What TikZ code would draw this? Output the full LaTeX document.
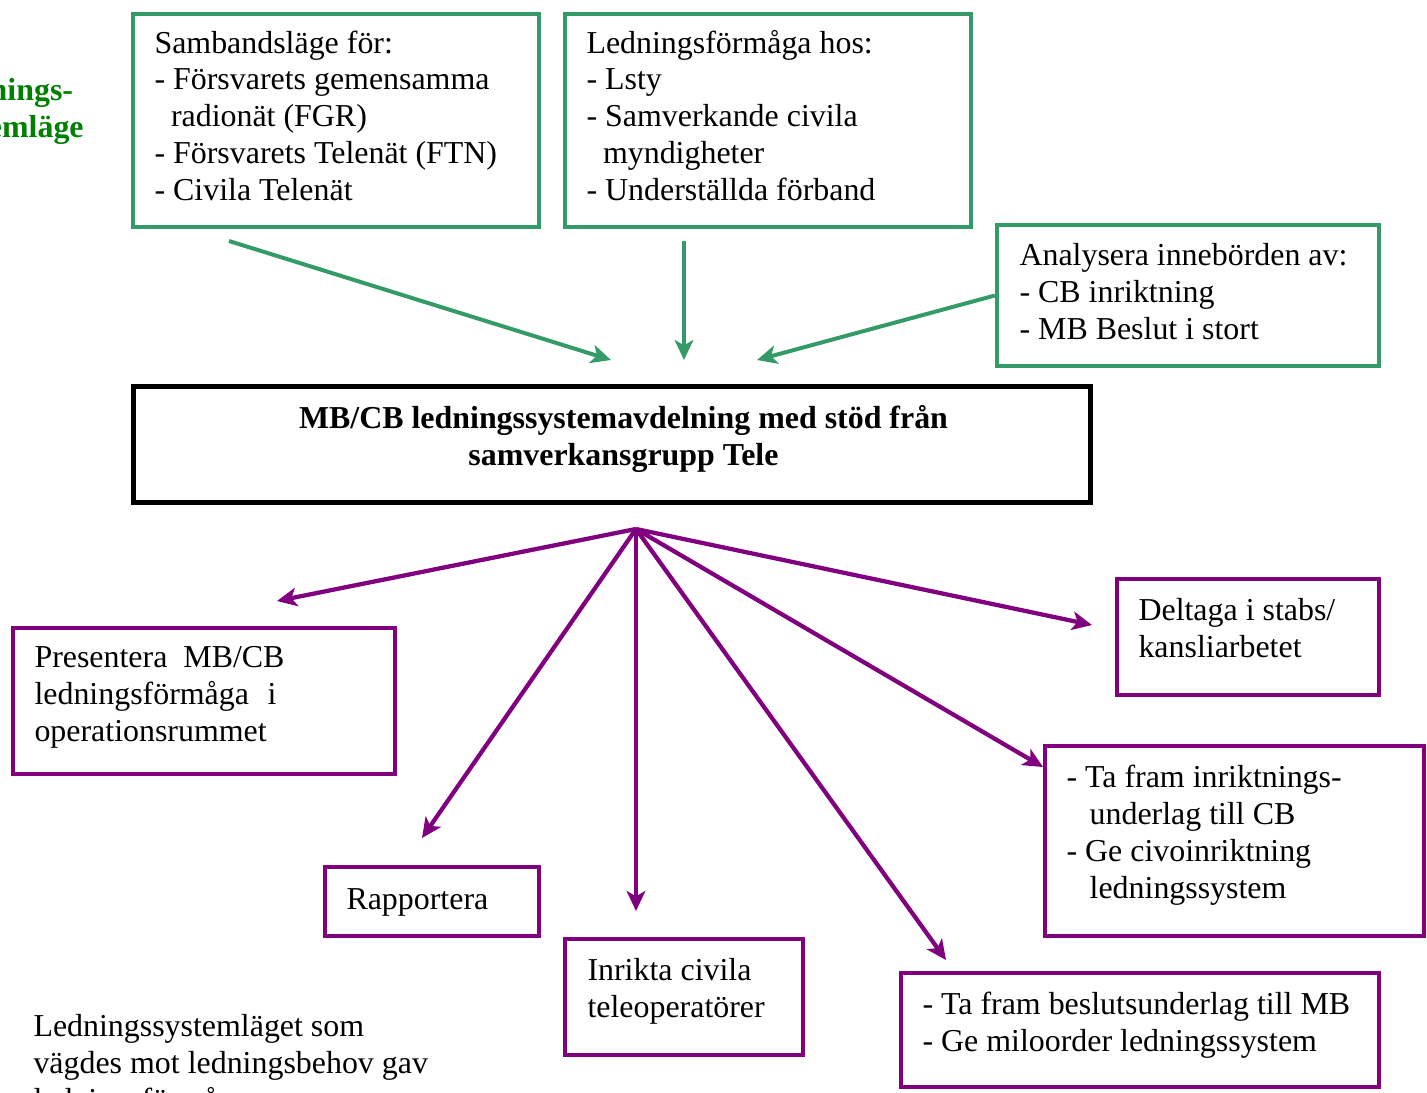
\documentclass[tikz,border=0pt]{standalone}
\usepackage{fontspec}
\setmainfont{Liberation Serif}
\usetikzlibrary{arrows.meta,fit}

\definecolor{sgreen}{RGB}{52,155,104}
\definecolor{tgreen}{RGB}{0,128,0}
\definecolor{vpurple}{RGB}{128,0,128}

\tikzset{
  box/.style={draw, rectangle, inner sep=0pt},
  gbox/.style={box, draw=sgreen, line width=1.6pt},
  pbox/.style={box, draw=vpurple, line width=1.7pt},
  mbox/.style={box, draw=black, line width=2.2pt},
  % multi-line texts are placed by the baseline of their last line
  txt/.style={anchor=base west, inner sep=0pt, align=left,
    font=\fontsize{12pt}{13.8pt}\selectfont},
  garrow/.style={draw=sgreen, line width=1.5pt,
    -{Stealth[length=7.5pt,width=7pt,inset=2pt]}},
  parrow/.style={draw=vpurple, line width=1.6pt,
    -{Stealth[length=7.5pt,width=7pt,inset=2pt]}},
}
\newcommand{\ind}[1]{\hspace*{#1}}

\begin{document}
\begin{tikzpicture}[x=0.376pt,y=-0.376pt]
\useasboundingbox (0,0) rectangle (1427,1093);
\clip (0,0) rectangle (1427,1093);

% side label, partly outside the frame
\node[txt, font=\fontsize{12pt}{13.8pt}\selectfont\bfseries, text=tgreen] (side) at (-64,137)
  {Lednings-\\systemläge};

% green input boxes
\node[gbox, fit={(133,14)(539,227)}] (s1) {};
\node[txt] (s1t) at (154,200) {Sambandsläge för:\\
  - Försvarets gemensamma\\
  \ind{6.2pt}radionät (FGR)\\
  - Försvarets Telenät (FTN)\\
  - Civila Telenät};

\node[gbox, fit={(565,14)(971,227)}] (s2) {};
\node[txt] (s2t) at (586,200) {Ledningsförmåga hos:\\
  - Lsty\\
  - Samverkande civila\\
  \ind{6.2pt}myndigheter\\
  - Underställda förband};

\node[gbox, fit={(997,225)(1379,366)}] (s3) {};
\node[txt] (s3t) at (1019,339) {Analysera innebörden av:\\
  - CB inriktning\\
  - MB Beslut i stort};

% central box
\node[mbox, fit={(133.5,386.5)(1090.5,502.5)}] (main) {};
\node[txt, anchor=base, align=center,
  font=\fontsize{12pt}{13.8pt}\selectfont\bfseries] (maint) at (623.5,465)
  {MB/CB ledningssystemavdelning med stöd från\\samverkansgrupp Tele};

% purple output boxes
\node[pbox, fit={(13,628)(395,774)}] (p1) {};
\node[txt] (p1t) at (34,741) {Presentera\hspace{6pt}MB/CB\\
  ledningsförmåga\hspace{7pt}i\\
  operationsrummet};

\node[pbox, fit={(325,867)(539,936)}] (p2) {};
\node[txt] (p2t) at (346,909) {Rapportera};

\node[pbox, fit={(565,939)(803,1055)}] (p3) {};
\node[txt] (p3t) at (587,1017) {Inrikta civila\\teleoperatörer};

\node[pbox, fit={(901,973)(1379,1087)}] (p4) {};
\node[txt] (p4t) at (922,1051) {- Ta fram beslutsunderlag till MB\\
  - Ge miloorder ledningssystem};

\node[pbox, fit={(1117,579)(1379,695)}] (p5) {};
\node[txt] (p5t) at (1138,657) {Deltaga i stabs/\\kansliarbetet};

\node[pbox, fit={(1045,746)(1424,936)}] (p6) {};
\node[txt] (p6t) at (1066,898) {- Ta fram inriktnings-\\
  \ind{8.7pt}underlag till CB\\
  - Ge civoinriktning\\
  \ind{8.7pt}ledningssystem};

% note at the bottom
\node[txt] (note) at (33,1110) {Ledningssystemläget som\\
  vägdes mot ledningsbehov gav\\
  ledningsförmåga};

% connector end points
\coordinate (g1s) at (229,241);
\coordinate (g1e) at (611,360);
\coordinate (g2s) at (684,241);
\coordinate (g2e) at (684,360);
\coordinate (g3e) at (757,360);
\coordinate (hub) at (636,529);
\coordinate (e1) at (277,601);
\coordinate (e2) at (422,838);
\coordinate (e3) at (636,911);
\coordinate (e4) at (946,960);
\coordinate (e6) at (1043,767);
\coordinate (e5) at (1092,625);

% inputs
\draw[garrow] (g1s) -- (g1e);
\draw[garrow] (g2s) -- (g2e);
\draw[garrow] (s3.west) -- (g3e);

% outputs
\draw[parrow] (hub) -- (e1);
\draw[parrow] (hub) -- (e2);
\draw[parrow] (hub) -- (e3);
\draw[parrow] (hub) -- (e4);
\draw[parrow] (hub) -- (e6);
\draw[parrow] (hub) -- (e5);
\end{tikzpicture}
\end{document}
